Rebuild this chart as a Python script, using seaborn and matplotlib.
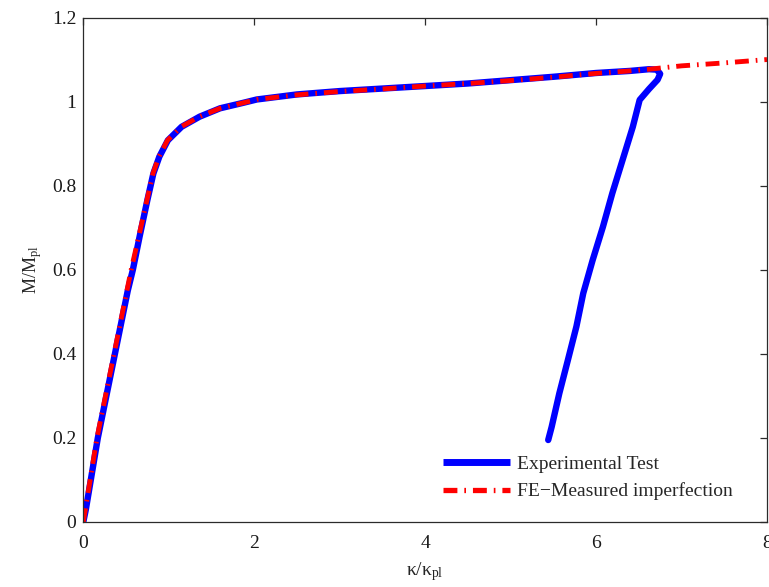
import matplotlib
matplotlib.use("Agg")
import matplotlib.pyplot as plt
import seaborn as sns
import pandas as pd

# Experimental moment-curvature response (loading branch, then unloading)
exp_kappa = [0.0, 0.03, 0.17, 0.37, 0.52, 0.58, 0.66, 0.75, 0.82, 0.89, 0.99,
             1.15, 1.36, 1.60, 1.87, 2.03, 2.50, 3.00, 3.50, 4.00, 4.50, 5.00,
             5.50, 6.00, 6.40, 6.62, 6.71, 6.75, 6.72, 6.62, 6.51, 6.43, 6.31,
             6.19, 6.08, 5.96, 5.85, 5.77, 5.67, 5.57, 5.48, 5.44]
exp_moment = [0.0, 0.03, 0.20, 0.40, 0.55, 0.60, 0.68, 0.766, 0.829, 0.869,
              0.908, 0.940, 0.964, 0.984, 0.997, 1.005, 1.017, 1.025, 1.031,
              1.037, 1.043, 1.051, 1.059, 1.068, 1.073, 1.077, 1.076, 1.066,
              1.052, 1.030, 1.004, 0.940, 0.861, 0.782, 0.702, 0.623, 0.544,
              0.465, 0.385, 0.306, 0.226, 0.195]

# Finite-element prediction with measured imperfections
fe_kappa = [0.0, 0.16, 0.36, 0.56, 0.65, 0.745, 0.815, 0.885, 0.985, 1.145,
            1.355, 1.60, 1.87, 2.03, 2.50, 3.00, 3.50, 4.00, 4.50, 5.00, 5.50,
            6.00, 6.40, 6.62, 7.00, 7.50, 8.00]
fe_moment = [0.0, 0.20, 0.40, 0.60, 0.68, 0.766, 0.829, 0.869, 0.908, 0.940,
             0.964, 0.984, 0.997, 1.005, 1.016, 1.024, 1.030, 1.037, 1.043,
             1.050, 1.058, 1.067, 1.073, 1.077, 1.085, 1.092, 1.100]

x_ticks = [0, 2, 4, 6, 8]
y_ticks = [0, 0.2, 0.4, 0.6, 0.8, 1.0, 1.2]
y_tick_labels = ["0", "0.2", "0.4", "0.6", "0.8", "1", "1.2"]

sns.set_theme(style="white")
plt.rcParams["font.family"] = ["Liberation Serif", "DejaVu Serif"]
plt.rcParams["mathtext.fontset"] = "custom"
plt.rcParams["mathtext.rm"] = "Liberation Serif"
plt.rcParams["mathtext.it"] = "Liberation Serif"
plt.rcParams["mathtext.bf"] = "Liberation Serif"
plt.rcParams["lines.scale_dashes"] = False

exp_df = pd.DataFrame({"kappa": exp_kappa, "moment": exp_moment})
fe_df = pd.DataFrame({"kappa": fe_kappa, "moment": fe_moment})

fig = plt.figure(figsize=(7.69, 5.87), dpi=100)
ax = fig.add_axes([83.3 / 769, 65 / 587, 683.7 / 769, 504.5 / 587])

sns.lineplot(data=exp_df, x="kappa", y="moment", sort=False, estimator=None,
             color="#0000ff", linewidth=4.6, ax=ax, label="Experimental Test")
sns.lineplot(data=fe_df, x="kappa", y="moment", sort=False, estimator=None,
             color="#ff0000", linewidth=3.5, ax=ax,
             label="FE\u2212Measured imperfection")
ax.lines[0].set_solid_capstyle("round")
ax.lines[0].set_solid_joinstyle("round")
ax.lines[1].set_dashes([10, 5, 1.2, 5])
ax.lines[1].set_dash_capstyle("butt")

ax.set_xlim(0, 8)
ax.set_ylim(0, 1.2)
ax.set_xticks(x_ticks)
ax.set_xticklabels([str(t) for t in x_ticks])
ax.set_yticks(y_ticks)
ax.set_yticklabels(y_tick_labels)

for side in ["left", "right", "top", "bottom"]:
    ax.spines[side].set_visible(True)
    ax.spines[side].set_color("#2b2b2b")
    ax.spines[side].set_linewidth(0.9)

ax.tick_params(axis="both", direction="in", top=True, right=True,
               length=5, width=0.9, color="#2b2b2b", labelsize=14,
               labelcolor="#1a1a1a")
ax.tick_params(axis="x", pad=9)
ax.tick_params(axis="y", pad=5)

ax.set_xlabel(r"$\kappa/\kappa_{pl}$", fontsize=14, labelpad=6)
ax.set_ylabel(r"$M/M_{pl}$", fontsize=13, labelpad=6)

leg = ax.legend(loc="lower left", bbox_to_anchor=(0.526, 0.043),
                frameon=False, fontsize=14, handlelength=3.45,
                handletextpad=0.36, labelspacing=0.5, borderpad=0,
                borderaxespad=0)
handles = leg.get_lines()
handles[0].set_linewidth(5.0)
handles[0].set_solid_capstyle("butt")
handles[1].set_linewidth(3.8)

fig.savefig("out.png", dpi=100)
